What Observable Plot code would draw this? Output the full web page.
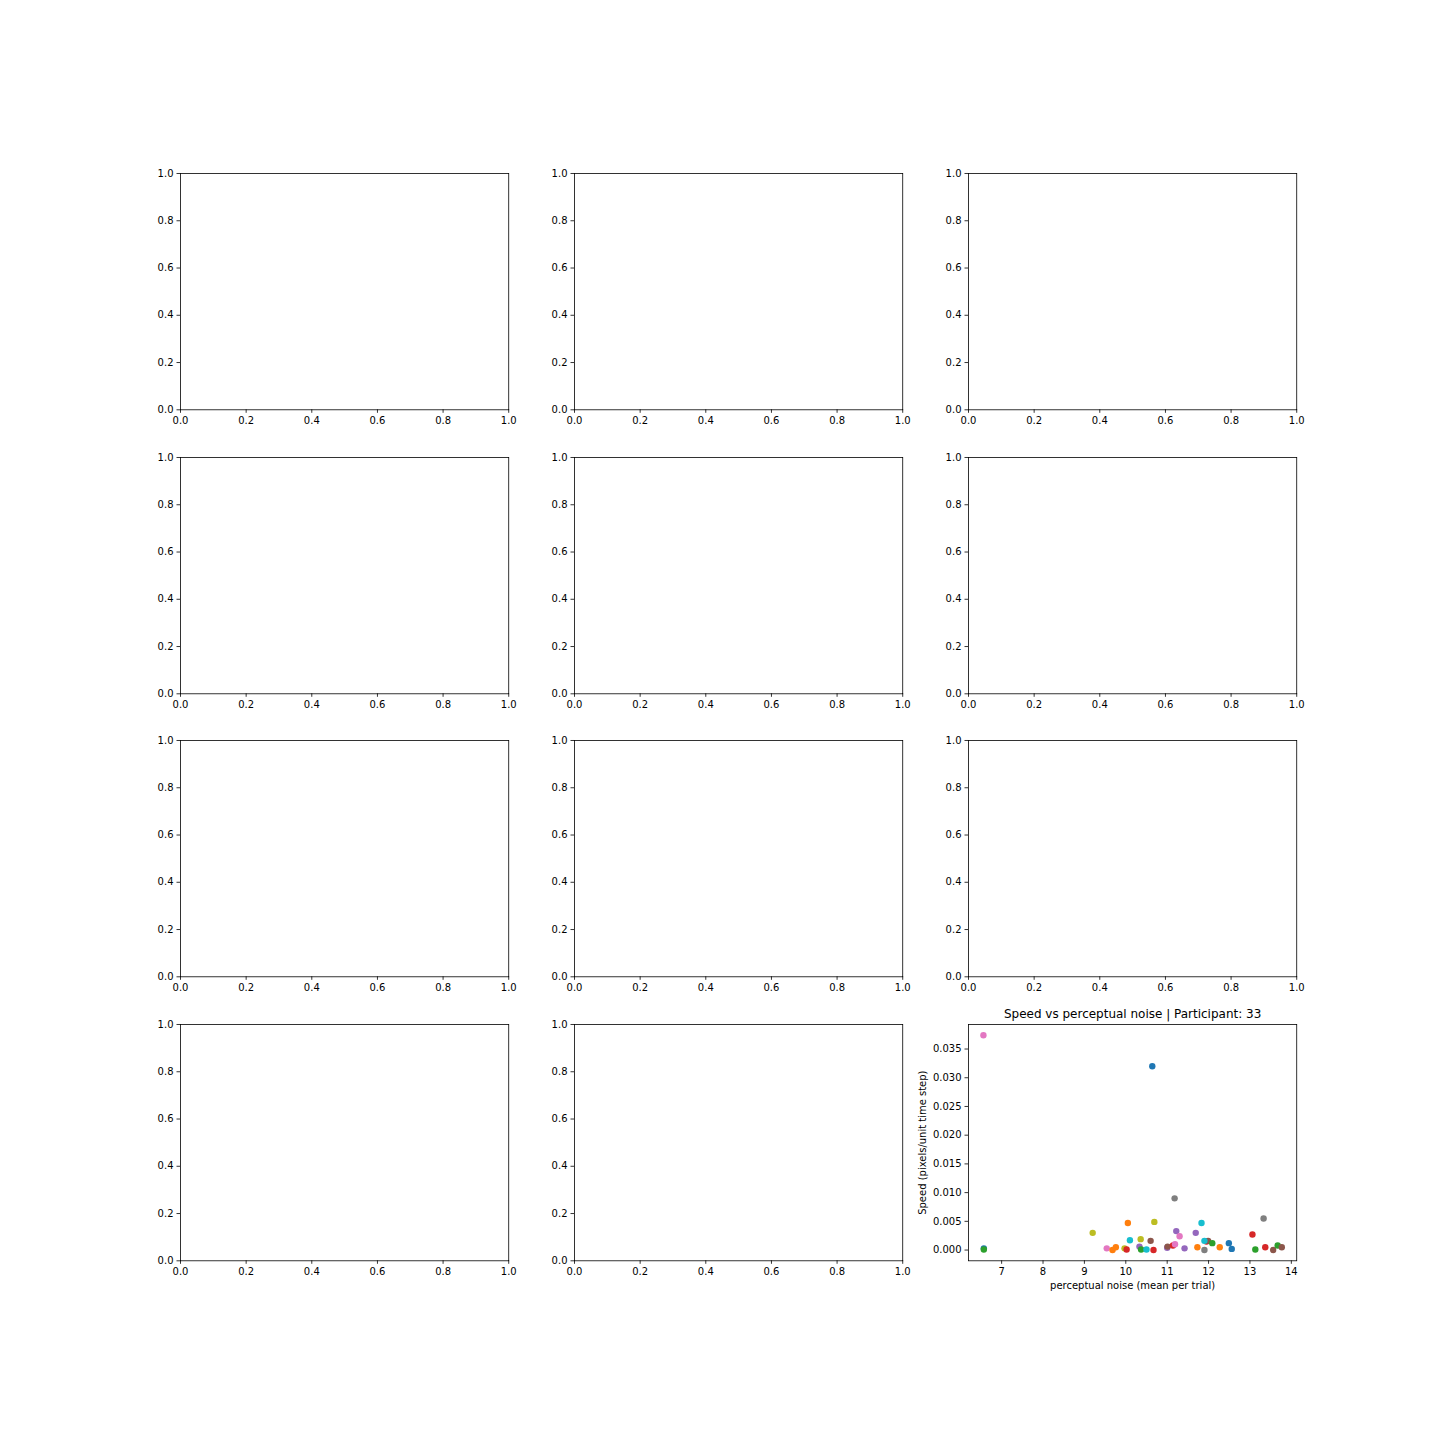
<!DOCTYPE html>
<html>
<head>
<meta charset="utf-8">
<script src="https://cdn.jsdelivr.net/npm/d3@7"></script>
<script src="https://cdn.jsdelivr.net/npm/@observablehq/plot@0.6"></script>
<style>
  html, body { margin: 0; padding: 0; background: white; }
  #fig { position: relative; width: 1440px; height: 1440px; background: white; overflow: hidden; }
  #fig > div { position: absolute; }
</style>
</head>
<body>
<div id="fig"></div>
<script>
// ---- data for the last panel (participant 33) ----
const noise = [6.56, 10.64, 6.57, 6.57, 11.18, 9.20, 10.05, 10.69, 11.22, 11.30,
  10.10, 10.36, 10.60, 9.54, 9.76, 9.68, 9.97, 10.02, 10.33, 10.37,
  10.50, 10.67, 11.00, 11.01, 11.14, 11.19, 11.42, 11.83, 11.69, 13.33,
  13.06, 11.95, 11.99, 11.90, 12.09, 11.73, 11.90, 12.27, 12.49, 12.56,
  13.13, 13.37, 13.56, 13.67, 13.77];
const speed = [0.0374, 0.0320, 0.0003, 0.0001, 0.0090, 0.0030, 0.0047, 0.0049, 0.0033, 0.0024,
  0.0017, 0.0019, 0.0016, 0.0003, 0.0005, 0.0000, 0.0003, 0.0001, 0.0006, 0.0001,
  0.0001, 0.0000, 0.0004, 0.0006, 0.0008, 0.0010, 0.0003, 0.0047, 0.0030, 0.0055,
  0.0027, 0.0015, 0.0016, 0.0016, 0.0012, 0.0005, 0.0000, 0.0005, 0.0012, 0.0002,
  0.0001, 0.0005, 0.0000, 0.0008, 0.0005];
const cycle = [6, 0, 0, 2, 7, 8, 1, 8, 4, 6,
  9, 8, 5, 6, 1, 1, 8, 3, 4, 2,
  9, 3, 4, 5, 3, 6, 4, 9, 4, 7,
  3, 3, 5, 9, 2, 1, 7, 1, 0, 0,
  2, 3, 5, 2, 5];
const emptyTicks = [0, 0.2, 0.4, 0.6, 0.8, 1.0];
const xTicks = [7, 8, 9, 10, 11, 12, 13, 14];
const yTicks = [0, 0.005, 0.010, 0.015, 0.020, 0.025, 0.030, 0.035];
const title = "Speed vs perceptual noise | Participant: 33";
const xLabel = "perceptual noise (mean per trial)";
const yLabel = "Speed (pixels/unit time step)";

const points = noise.map((n, i) => ({noise: n, speed: speed[i], c: cycle[i]}));

// ---- layout (matplotlib 4x3 grid) ----
const L = 180, R = 1296, T = 173, B = 1260;
const nr = 4, nc = 3, sp = 0.2;
const w = (R - L) / (nc + (nc - 1) * sp);
const h = (B - T) / (nr + (nr - 1) * sp);
const ml = 70, mr = 20, mt = 30, mb = 40;
const fig = document.getElementById("fig");
const style = {fontFamily: "DejaVu Sans", fontSize: "10px", color: "black", background: "transparent", overflow: "visible"};

function place(svg, r, c) {
  const left = L + c * w * (1 + sp);
  const top = T + r * h * (1 + sp);
  const d = document.createElement("div");
  d.style.left = (left - ml) + "px";
  d.style.top = (top - mt) + "px";
  d.appendChild(svg);
  fig.appendChild(d);
}

const axisOpts = {tickSize: 3.5, tickPadding: 3.5, strokeWidth: 0.8, label: null};

for (let r = 0; r < nr; r++) {
  for (let c = 0; c < nc; c++) {
    if (r === nr - 1 && c === nc - 1) continue;
    const svg = Plot.plot({
      width: w + ml + mr, height: h + mt + mb,
      marginLeft: ml, marginRight: mr, marginTop: mt, marginBottom: mb,
      style,
      x: {domain: [0, 1]},
      y: {domain: [0, 1]},
      marks: [
        Plot.axisX({...axisOpts, ticks: emptyTicks, tickFormat: d3.format(".1f")}),
        Plot.axisY({...axisOpts, ticks: emptyTicks, tickFormat: d3.format(".1f")}),
        Plot.frame({stroke: "black", strokeWidth: 0.8})
      ]
    });
    place(svg, r, c);
  }
}

// last panel with data
{
  const xmin = d3.min(noise), xmax = d3.max(noise);
  const ymin = d3.min(speed), ymax = d3.max(speed);
  const px = (xmax - xmin) * 0.05, py = (ymax - ymin) * 0.05;
  const svg = Plot.plot({
    width: w + ml + mr, height: h + mt + mb,
    marginLeft: ml, marginRight: mr, marginTop: mt, marginBottom: mb,
    style,
    x: {domain: [xmin - px, xmax + px]},
    y: {domain: [ymin - py, ymax + py]},
    color: {type: "ordinal", domain: d3.range(10), range: d3.schemeCategory10},
    marks: [
      Plot.axisX({...axisOpts, ticks: xTicks, tickFormat: d3.format("d")}),
      Plot.axisY({...axisOpts, ticks: yTicks, tickFormat: d3.format(".3f")}),
      Plot.dot(points, {x: "noise", y: "speed", r: 3.2, fill: "c", stroke: null}),
      Plot.frame({stroke: "black", strokeWidth: 0.8}),
      Plot.text([title], {frameAnchor: "top", dy: -10, lineAnchor: "middle", fontSize: 12, fill: "black"}),
      Plot.text([xLabel], {frameAnchor: "bottom", dy: 25, lineAnchor: "middle", fontSize: 10, fill: "black"}),
      Plot.text([yLabel], {frameAnchor: "left", dx: -46, rotate: -90, textAnchor: "middle", lineAnchor: "middle", fontSize: 10, fill: "black"})
    ]
  });
  place(svg, nr - 1, nc - 1);
}
</script>
</body>
</html>
